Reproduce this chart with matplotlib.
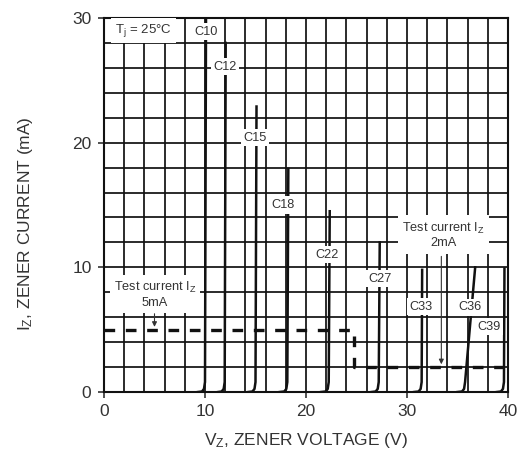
import numpy as np
import matplotlib
matplotlib.use("Agg")
import matplotlib.pyplot as plt

plt.rcParams['font.family'] = ['Liberation Sans', 'DejaVu Sans']
plt.rcParams['mathtext.fontset'] = 'custom'
plt.rcParams['mathtext.rm'] = 'Liberation Sans'
plt.rcParams['mathtext.it'] = 'Liberation Sans'

# ---- data ----
device_names = ["C10", "C12", "C15", "C18", "C22", "C27", "C33", "C36", "C39"]
knee_start_v = [9.3, 11.3, 14.3, 17.4, 21.5, 26.5, 30.7, 35.0, 38.9]   # V at 0 mA
breakdown_v = [10.0, 11.95, 15.0, 18.15, 22.25, 27.2, 31.45, 35.75, 39.6]
top_v = [10.1, 12.05, 15.1, 18.25, 22.35, 27.3, 31.5, 36.75, 39.65]
top_current = [30.0, 28.0, 22.9, 17.9, 14.5, 12.0, 9.8, 10.0, 9.9]

label_v = [10.1, 12.0, 14.95, 17.75, 22.1, 27.3, 31.35, 36.2, 38.15]
label_i = [28.9, 26.1, 20.4, 15.0, 11.0, 9.1, 6.85, 6.8, 5.25]

# test current dashed path
test_v = [0.0, 24.8, 24.8, 40.0]
test_i = [5.0, 5.0, 2.0, 2.0]

x_ticks = [0, 10, 20, 30, 40]
y_ticks = [0, 10, 20, 30]

fig = plt.figure(figsize=(5.23, 4.55), dpi=100)
ax = fig.add_axes([104/523, 1-392/455, 404/523, 374/455])
ax.set_xlim(0, 40)
ax.set_ylim(0, 30)

ax.set_xticks(x_ticks)
ax.set_yticks(y_ticks)
ax.set_xticks(np.arange(0, 41, 2), minor=True)
ax.set_yticks(np.arange(0, 31, 2), minor=True)
ax.grid(True, which='both', color='#111111', linewidth=1.25)
ax.set_axisbelow(True)
ax.tick_params(which='minor', length=0)
ax.tick_params(which='major', length=4, width=1.2, color='#333333',
               labelsize=12.5, labelcolor='#333333', pad=5)
for s in ax.spines.values():
    s.set_linewidth(1.5)
    s.set_color('#111111')

# zener curves
for kv, bv, tv, ti in zip(knee_start_v, breakdown_v, top_v, top_current):
    xs = [kv, bv - 0.3, bv - 0.1, bv, tv]
    ys = [0.0, 0.04, 0.25, 0.8, ti]
    ax.plot(xs, ys, color='#111111', linewidth=1.8, solid_joinstyle='round', zorder=3)

box = dict(facecolor='white', edgecolor='none', pad=1.8)
for name, lv, li in zip(device_names, label_v, label_i):
    ax.text(lv, li, name, ha='center', va='center', fontsize=9.2, color='#333333',
            bbox=box, zorder=5)

ax.text(3.9, 29.0, r"T$_\mathregular{j}$ = 25°C", ha='center', va='center', fontsize=9.5,
        color='#333333', bbox=dict(facecolor='white', edgecolor='none', pad=3), zorder=5)

# dashed test current line
ax.plot(test_v, test_i, color='#111111', linewidth=2.4, dashes=(3.2, 3.2), zorder=4)

# test current annotations
ax.text(5.05, 7.8, "Test current I$_\\mathregular{Z}$\n5mA", ha='center', va='center',
        fontsize=9.2, color='#333333', linespacing=1.2,
        bbox=dict(facecolor='white', edgecolor='none', pad=3), zorder=5)
ax.annotate("", xy=(5.0, 5.0), xytext=(5.0, 6.5),
            arrowprops=dict(arrowstyle='-|>', color='#333333', lw=0.8,
                            mutation_scale=7), zorder=5)

ax.text(33.6, 12.6, "Test current I$_\\mathregular{Z}$\n2mA", ha='center', va='center',
        fontsize=9.2, color='#333333', linespacing=1.2,
        bbox=dict(facecolor='white', edgecolor='none', pad=3), zorder=5)
ax.annotate("", xy=(33.4, 2.0), xytext=(33.4, 11.1),
            arrowprops=dict(arrowstyle='-|>', color='#333333', lw=0.8,
                            mutation_scale=7), zorder=5)

ax.set_xlabel("V$_\\mathregular{Z}$, ZENER VOLTAGE (V)", fontsize=12.5, color='#333333')
ax.set_ylabel("I$_\\mathregular{Z}$, ZENER CURRENT (mA)", fontsize=12.5, color='#333333')
ax.xaxis.set_label_coords(0.5, -0.105)
ax.yaxis.set_label_coords(-0.17, 0.45)

fig.savefig("out.png", dpi=100)
